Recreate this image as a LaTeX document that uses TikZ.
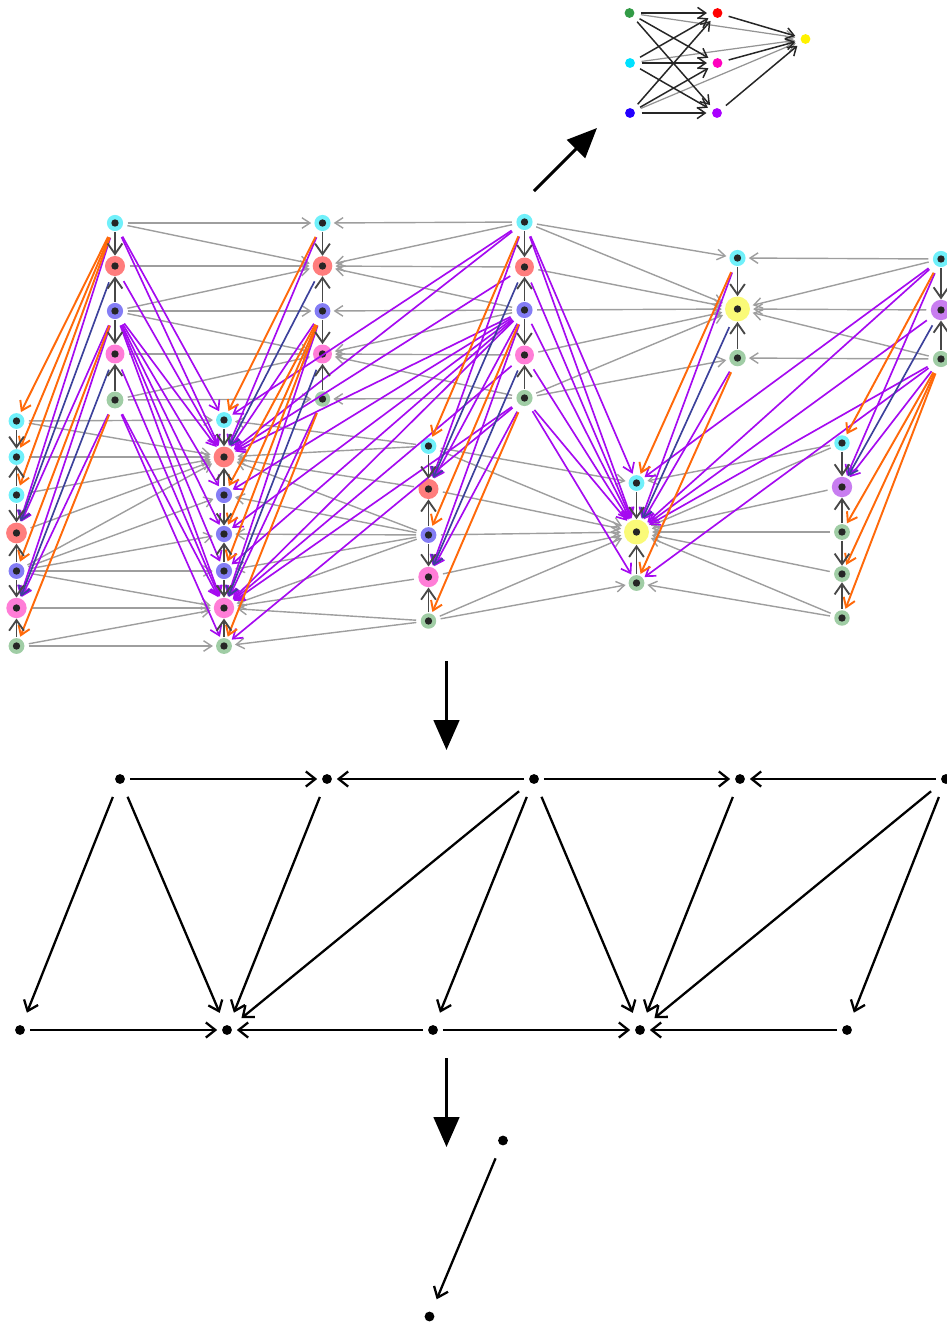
\documentclass[tikz,border=0pt]{standalone}
\usepackage{tikz}
\usetikzlibrary{arrows.meta}
\usepackage{xcolor}
\definecolor{halocyan}{RGB}{112,240,250}
\definecolor{halored}{RGB}{255,125,125}
\definecolor{haloblue}{RGB}{132,125,245}
\definecolor{halopink}{RGB}{255,125,215}
\definecolor{halogreen}{RGB}{160,205,165}
\definecolor{haloyellow}{RGB}{250,250,120}
\definecolor{halopurple}{RGB}{200,125,240}
\definecolor{linkviolet}{RGB}{165,10,240}
\definecolor{linkorange}{RGB}{255,105,10}
\definecolor{linknavy}{RGB}{60,65,155}
\definecolor{dotgreen}{RGB}{50,155,70}
\definecolor{dotcyan}{RGB}{0,225,255}
\definecolor{dotblue}{RGB}{35,0,255}
\definecolor{dotmagenta}{RGB}{255,0,190}
\definecolor{dotpurple}{RGB}{170,0,255}

\begin{document}
\begin{tikzpicture}[
  x=0.02cm, y=-0.02cm,
  >={Straight Barb[length=5pt,width=6.8pt]},
  vx/.style={circle, inner sep=0pt, minimum size=8.5pt, fill=#1,
    path picture={\fill[black!85] (path picture bounding box.center) circle (2.1pt);}},
  pt/.style={circle, inner sep=0pt, minimum size=#1, fill=black},
  darklink/.style={->, line width=1.05pt, black!72, >={Straight Barb[length=6pt,width=8.4pt]}, shorten >=0pt, shorten <=0.4pt},
  greylink/.style={->, line width=0.8pt, black!38, >={Straight Barb[length=4.6pt,width=6pt]}, shorten >=1.6pt, shorten <=2.4pt},
  violink/.style={->, line width=0.95pt, linkviolet, shorten >=1pt, shorten <=4pt},
  orangelink/.style={->, line width=1.1pt, linkorange, shorten >=1pt, shorten <=4pt},
  navylink/.style={->, line width=0.95pt, linknavy, shorten >=1pt, shorten <=4pt},
  arrlink/.style={->, line width=0.85pt, black!85, >={Straight Barb[length=4.6pt,width=6.4pt]}, shorten >=3pt, shorten <=3.6pt},
  softlink/.style={->, line width=0.7pt, black!42, >={Straight Barb[length=4.6pt,width=6.4pt]}, shorten >=3pt, shorten <=3.6pt},
  skel/.style={->, line width=1.3pt, >={Straight Barb[length=5.4pt,width=8.6pt]}, shorten >=2.6pt, shorten <=2.6pt},
  skeldiag/.style={skel, shorten >=7.6pt, shorten <=8pt},
  bigarrow/.style={line width=1.7pt, -{Triangle[length=17pt,width=14.5pt]}},
]
\useasboundingbox (0,0) rectangle (947,1326);

% big graph vertices
\foreach \n/\y/\c/\d in {a1/223/halocyan/9.2, a2/266/halored/11.4, a3/311/haloblue/9.2, a4/354/halopink/10.8, a5/400/halogreen/9.6}
  { \node[vx=\c, minimum size=\d pt] (\n) at (115,\y) {}; }
\foreach \n/\y/\c/\d in {b1/421/halocyan/9, b2/457/halocyan/9, b3/495/halocyan/9, b4/533/halored/11.8, b5/571/haloblue/9, b6/608/halopink/11.6, b7/646/halogreen/9}
  { \node[vx=\c, minimum size=\d pt] (\n) at (16.5,\y) {}; }
\foreach \n/\y/\c/\d in {c1/420/halocyan/9, c2/457/halored/11.8, c3/495/haloblue/9.2, c4/534/haloblue/9.2, c5/571/haloblue/9.2, c6/608/halopink/11.6, c7/646/halogreen/9}
  { \node[vx=\c, minimum size=\d pt] (\n) at (224,\y) {}; }
\foreach \n/\y/\c/\d in {d1/223/halocyan/9.2, d2/266/halored/11.2, d3/311/haloblue/9, d4/354/halopink/10.8, d5/399/halogreen/8.8}
  { \node[vx=\c, minimum size=\d pt] (\n) at (322.5,\y) {}; }
\foreach \n/\y/\c/\d in {e1/446/halocyan/9, e2/489/halored/11.4, e3/535/haloblue/9, e4/577/halopink/11.6, e5/621/halogreen/8.8}
  { \node[vx=\c, minimum size=\d pt] (\n) at (428.5,\y) {}; }
\foreach \n/\y/\c/\d in {f1/222/halocyan/9.2, f2/267/halored/10.8, f3/310/haloblue/9.2, f4/355/halopink/10.8, f5/398/halogreen/9.2}
  { \node[vx=\c, minimum size=\d pt] (\n) at (524.5,\y) {}; }
\foreach \n/\y/\c/\d in {g1/258/halocyan/9.2, g2/309/haloyellow/14.2, g3/358/halogreen/9.4}
  { \node[vx=\c, minimum size=\d pt] (\n) at (737.5,\y) {}; }
\foreach \n/\y/\c/\d in {h1/259/halocyan/9.2, h2/310/halopurple/11.6, h3/359/halogreen/9.2}
  { \node[vx=\c, minimum size=\d pt] (\n) at (941,\y) {}; }
\foreach \n/\y/\c/\d in {i1/483/halocyan/9, i2/532/haloyellow/14.2, i3/583/halogreen/9}
  { \node[vx=\c, minimum size=\d pt] (\n) at (636.5,\y) {}; }
\foreach \n/\y/\c/\d in {j1/443/halocyan/8.8, j2/487/halopurple/11.6, j3/532/halogreen/9, j4/574/halogreen/9, j5/618/halogreen/8.8}
  { \node[vx=\c, minimum size=\d pt] (\n) at (842,\y) {}; }

% grey maps inside a row
\foreach \s/\t in {a1/d1,a1/d2,a2/d2,a3/d2,a3/d3,a3/d4,a4/d4,a5/d4,a5/d5,
  f1/d1,f1/d2,f2/d2,f3/d2,f3/d3,f3/d4,f4/d4,f5/d4,f5/d5,
  f1/g1,f1/g2,f2/g2,f3/g2,f4/g2,f5/g2,f5/g3,
  h1/g1,h1/g2,h2/g2,h3/g2,h3/g3,
  b1/c1,b1/c2,b2/c2,b3/c2,b4/c2,b5/c2,b5/c3,b5/c4,b5/c5,b5/c6,b6/c6,b7/c6,b7/c7,
  e1/c1,e1/c2,e2/c2,e3/c2,e3/c3,e3/c4,e3/c5,e3/c6,e4/c6,e5/c6,e5/c7,
  e1/i1,e1/i2,e2/i2,e3/i2,e4/i2,e5/i2,e5/i3,
  j1/i1,j1/i2,j2/i2,j3/i2,j4/i2,j5/i2,j5/i3}
  { \draw[greylink] (\s) -- (\t); }

% maps between the rows
\foreach \s/\t in {a1/b4,a3/b4,a3/b6,a5/b6,
  a1/c1,a1/c2,a2/c2,a3/c2,a3/c3,a3/c4,a3/c5,a3/c6,a4/c6,a5/c6,a5/c7,
  d1/c2,d3/c2,d3/c6,d5/c6,
  f1/c1,f1/c2,f2/c2,f3/c2,f3/c3,f3/c4,f3/c5,f3/c6,f4/c6,f5/c6,f5/c7,
  f1/e2,f3/e2,f3/e4,f5/e4,
  f1/i1,f1/i2,f2/i2,f3/i2,f4/i2,f5/i2,f5/i3,
  g1/i2,g3/i2,
  h1/i1,h1/i2,h2/i2,h3/i2,h3/i3,
  h1/j2,h3/j2}
  { \draw[violink] (\s) -- (\t); }
\foreach \s/\t in {a2/b4,a4/b6,d2/c2,d4/c6,f2/e2,f4/e4,g2/i2,h2/j2}
  { \draw[navylink] (\s) -- (\t); }
\foreach \s/\t in {a1/b1,a1/b2,a1/b3,a3/b5,a5/b7,
  d1/c1,d3/c3,d3/c4,d3/c5,d5/c7,
  f1/e1,f3/e3,f5/e5,
  g1/i1,g3/i3,
  h1/j1,h3/j3,h3/j4,h3/j5}
  { \draw[orangelink] (\s) -- (\t); }

% arrows inside a column
\foreach \s/\t in {a1/a2,a3/a2,a3/a4,a5/a4,
  b1/b2,b3/b2,b3/b4,b5/b4,b5/b6,b7/b6,
  c1/c2,c3/c2,c3/c4,c5/c4,c5/c6,c7/c6,
  d1/d2,d3/d2,d3/d4,d5/d4,
  e1/e2,e3/e2,e3/e4,e5/e4,
  f1/f2,f3/f2,f3/f4,f5/f4,
  g1/g2,g3/g2,h1/h2,h3/h2,i1/i2,i3/i2,
  j1/j2,j3/j2,j3/j4,j5/j4}
  { \draw[darklink] (\s) -- (\t); }

% small graph at the top
\node[circle, inner sep=0pt, minimum size=5.6pt, fill=dotgreen] (s1) at (629.5,13) {};
\node[circle, inner sep=0pt, minimum size=5.6pt, fill=dotcyan] (s2) at (630,63) {};
\node[circle, inner sep=0pt, minimum size=5.6pt, fill=dotblue] (s3) at (630,113) {};
\node[circle, inner sep=0pt, minimum size=5.6pt, fill=red] (m1) at (717.5,13) {};
\node[circle, inner sep=0pt, minimum size=5.6pt, fill=dotmagenta] (m2) at (717.5,63) {};
\node[circle, inner sep=0pt, minimum size=5.6pt, fill=dotpurple] (m3) at (717,113) {};
\node[circle, inner sep=0pt, minimum size=5.6pt, fill=yellow] (y) at (805.5,39) {};
\foreach \s in {s1,s2,s3} { \draw[softlink] (\s) -- (y); }
\foreach \s in {s1,s2,s3} { \foreach \t in {m1,m2,m3} { \draw[arrlink] (\s) -- (\t); } }
\foreach \t in {m1,m2,m3} { \draw[arrlink] (\t) -- (y); }

% big arrows
\coordinate (upfrom) at (534,191);
\coordinate (upto) at (597,128);
\coordinate (downfrom) at (446.5,661);
\coordinate (downto) at (446.5,750);
\coordinate (lowfrom) at (446.5,1058);
\coordinate (lowto) at (446.5,1147);
\draw[bigarrow] (upfrom) -- (upto);
\draw[bigarrow] (downfrom) -- (downto);
\draw[bigarrow] (lowfrom) -- (lowto);

% skeleton
\foreach \n/\x in {t1/120,t2/327,t3/534,t4/740,t5/946} { \node[pt=5.6pt] (\n) at (\x,779) {}; }
\foreach \n/\x in {u1/20,u2/227,u3/433,u4/640,u5/847} { \node[pt=5.6pt] (\n) at (\x,1030) {}; }
\foreach \s/\t in {t1/t2,t3/t2,t3/t4,t5/t4,u1/u2,u3/u2,u3/u4,u5/u4} { \draw[skel] (\s) -- (\t); }
\foreach \s/\t in {t1/u1,t1/u2,t2/u2,t3/u2,t3/u3,t3/u4,t4/u4,t5/u4,t5/u5} { \draw[skeldiag] (\s) -- (\t); }

\node[pt=5.6pt] (p1) at (503,1140.5) {};
\node[pt=5.6pt] (p2) at (429.5,1316.5) {};
\draw[skeldiag] (p1) -- (p2);
\end{tikzpicture}
\end{document}
